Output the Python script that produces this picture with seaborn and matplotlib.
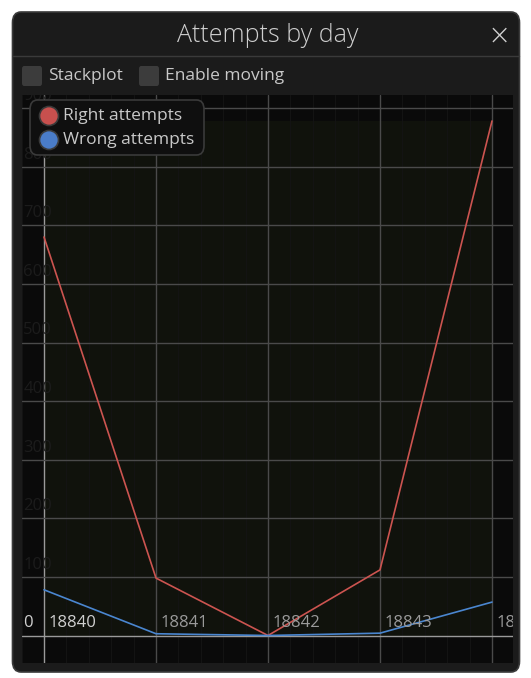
import numpy as np
import pandas as pd
import matplotlib.pyplot as plt
import seaborn as sns
from matplotlib.patches import FancyBboxPatch, Rectangle, Ellipse
from matplotlib.lines import Line2D

days = [18840, 18841, 18842, 18843, 18844]
right_attempts = [680, 98, 0, 112, 878]
wrong_attempts = [78, 3, 0, 4, 57]
y_ticks = [0, 100, 200, 300, 400, 500, 600, 700, 800, 900]

df = pd.DataFrame({
    'day': days * 2,
    'attempts': right_attempts + wrong_attempts,
    'series': ['Right attempts'] * len(days) + ['Wrong attempts'] * len(days),
})

sns.set_theme(style='dark')
plt.rcParams['font.family'] = ['Open Sans', 'DejaVu Sans']

W, H = 531, 678
fig = plt.figure(figsize=(W / 100, H / 100), dpi=100, facecolor='white')

def fx(px):
    return px / W

def fy(py):
    return 1 - py / H

# window frame
fig.patches.append(FancyBboxPatch((fx(12.5), fy(672)), fx(507), 660 / H,
                                  boxstyle='round,pad=0,rounding_size=0.016',
                                  transform=fig.transFigure, facecolor='#1b1b1b',
                                  edgecolor='#3a3a3a', linewidth=1.2, zorder=-10))
fig.lines.append(Line2D([fx(13), fx(519)], [fy(56), fy(56)], transform=fig.transFigure,
                        color='#3a3a3a', linewidth=1, zorder=-5))
fig.text(fx(268), fy(36), 'Attempts by day', ha='center', va='center',
         color='#cfcfcf', fontsize=18, fontweight='light')
fig.text(fx(499), fy(36), '\u00d7', ha='center', va='center', color='#d0d0d0', fontsize=20,
         fontfamily='DejaVu Sans', fontweight='light')

# checkboxes
for x0, label in [(22, 'Stackplot'), (139, 'Enable moving')]:
    fig.patches.append(FancyBboxPatch((fx(x0), fy(86)), fx(20), 20 / H,
                                      boxstyle='round,pad=0,rounding_size=0.004',
                                      transform=fig.transFigure, facecolor='#3c3c3c',
                                      edgecolor='none', zorder=-5))
    fig.text(fx(x0 + 26), fy(76), label, ha='left', va='center', color='#c8c8c8', fontsize=12.5)

# plot area
left, right, top, bottom = 22, 513, 95, 663
ax = fig.add_axes([fx(left), fy(bottom), fx(right - left), (bottom - top) / H])
ax.set_facecolor('#0a0a0a')

sns.lineplot(data=df, x='day', y='attempts', hue='series', ax=ax,
             palette={'Right attempts': '#cc5450', 'Wrong attempts': '#4a86d0'},
             linewidth=1.2, legend=False, zorder=3)

px_per_day = 112
x0px = 44
xlim = (days[0] - (x0px - left) / px_per_day, days[0] + (right - x0px) / px_per_day)
px_per_unit = 0.586
y0px = 635.5
ylim = (-(bottom - y0px) / px_per_unit, (y0px - top) / px_per_unit)

# data bounds highlight
ax.add_patch(Rectangle((min(days), 0), max(days) - min(days), max(right_attempts),
                       facecolor='#10120c', edgecolor='none', zorder=0))

# minor grid
for d in np.arange(days[0] - 0.2, days[-1] + 1.2, 0.2):
    ax.axvline(d, color='#131313', linewidth=0.8, zorder=0.5)

for d in range(days[0], days[-1] + 1):
    c = '#9a9a9a' if d % 10 == 0 else '#4a4a4a'
    ax.axvline(d, color=c, linewidth=1, zorder=1)
for t in y_ticks:
    c = '#9a9a9a' if t == 0 else '#4a4a4a'
    ax.axhline(t, color=c, linewidth=1, zorder=1)

ax.set_xlim(*xlim)
ax.set_ylim(*ylim)
ax.set_xticks([])
ax.set_yticks([])
ax.set_xlabel('')
ax.set_ylabel('')
for s in ax.spines.values():
    s.set_visible(False)

# tick labels inside plot
for d in days:
    ax.annotate(str(d), (d, 0), xytext=(3, 3), textcoords='offset points',
                color='#9a9a9a' if d != days[0] else '#d0d0d0', fontsize=12,
                ha='left', va='bottom', zorder=4, annotation_clip=False, clip_on=True)
for t in y_ticks:
    ax.annotate(str(t), (xlim[0], t), xytext=(1, 3), textcoords='offset points',
                color='#d0d0d0' if t == 0 else '#1c1c1c', fontsize=12,
                ha='left', va='bottom', zorder=4)

# legend
fig.patches.append(FancyBboxPatch((fx(30), fy(155)), fx(174), 55 / H,
                                  boxstyle='round,pad=0,rounding_size=0.014',
                                  transform=fig.transFigure, facecolor='#0f0f0f',
                                  edgecolor='#3a3a3a', linewidth=1.2, zorder=5))
for yy, label, col in [(116, 'Right attempts', '#c8504e'), (140, 'Wrong attempts', '#4a7cc8')]:
    fig.patches.append(Ellipse((fx(49), fy(yy)), 19 / W, 19 / H, transform=fig.transFigure,
                               facecolor=col, edgecolor='#3a3a3a', linewidth=1.2, zorder=6))
    fig.text(fx(63), fy(yy), label, ha='left', va='center', color='#c8c8c8', fontsize=12.5,
             zorder=7)

fig.savefig('out.png', dpi=100, facecolor='white')
